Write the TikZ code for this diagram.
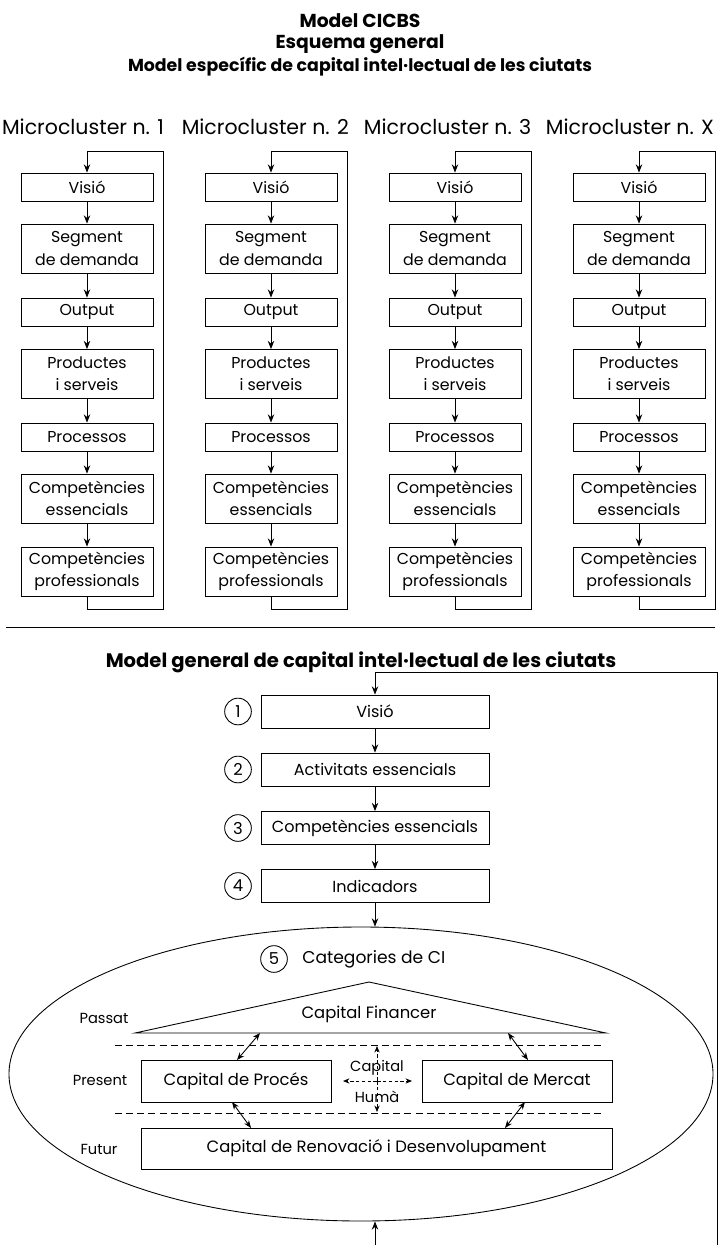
\documentclass[tikz,border=0pt]{standalone}
\usepackage{fontspec}
\setmainfont{Poppins}
\usetikzlibrary{arrows.meta,shapes.geometric}
\begin{document}
\begin{tikzpicture}[x=0.03cm,y=-0.03cm,line width=0.75pt,
  arr/.style={-{Stealth[length=7pt,width=5.5pt]}},
  darr/.style={{Stealth[length=6.5pt,width=5pt]}-{Stealth[length=6.5pt,width=5pt]}},
  hdash/.style={dash pattern=on 3pt off 2pt,-{Stealth[length=5.5pt,width=4.5pt]}},
  sep/.style={dash pattern=on 6pt off 3.5pt},
  box/.style={draw,minimum width=3.96cm,minimum height=0.84cm,inner sep=1pt,align=center,font=\fontsize{13.5}{19}\selectfont},
  tall/.style={box,minimum height=1.47cm},
  flow/.style={box,minimum width=6.84cm,minimum height=0.99cm,font=\fontsize{13.7}{15}\selectfont},
  num/.style={draw,circle,minimum size=0.8cm,inner sep=0pt,font=\fontsize{14}{15}\selectfont},
  capbox/.style={draw,minimum height=1.26cm,inner sep=1pt,font=\fontsize{14}{15}\selectfont},
  tag/.style={font=\fontsize{12.5}{14}\selectfont},
  mclab/.style={font=\fontsize{17.5}{19}\selectfont},
  ttl/.style={font=\fontsize{16}{18}\bfseries}]
\useasboundingbox (0,0) rectangle (721,1245);
\node[ttl] (t1) at (360,21) {Model CICBS};
\node[ttl] (t2) at (360,44) {Esquema general};
\node[font=\fontsize{14.8}{17}\bfseries] (t3) at (360,67) {Model específic de capital intel·lectual de les ciutats};
\foreach \i/\lab in {0/1,1/2,2/3,3/X}{
  \pgfmathsetmacro{\cx}{87+184*\i}
  \node[mclab] (mc\i) at (83+182.3*\i,127) {Microcluster n. \lab};
  \node[box] (vis\i) at (\cx,187) {Visió};
  \node[tall] (seg\i) at (\cx,248.5) {Segment\\de demanda};
  \node[box] (out\i) at (\cx,312) {Output};
  \node[tall] (prod\i) at (\cx,374) {Productes\\i serveis};
  \node[box] (proc\i) at (\cx,437) {Processos};
  \node[tall] (ess\i) at (\cx,498.5) {Competències\\essencials};
  \node[tall] (prof\i) at (\cx,571.5) {Competències\\professionals};
  \coordinate (lt\i) at (\cx+76,151);
  \coordinate (lb\i) at (\cx+76,609);
  \draw[arr] (vis\i) -- (seg\i);
  \draw[arr] (seg\i) -- (out\i);
  \draw[arr] (out\i) -- (prod\i);
  \draw[arr] (prod\i) -- (proc\i);
  \draw[arr] (proc\i) -- (ess\i);
  \draw[arr] (ess\i) -- (prof\i);
  \draw[arr] (prof\i.south) |- (lb\i) -- (lt\i) -| (vis\i.north);
}
\coordinate (sl) at (6,627);
\coordinate (sr) at (715,627);
\draw (sl) -- (sr);
\node[font=\fontsize{16.7}{18}\bfseries] (t4) at (361,662) {Model general de capital intel·lectual de les ciutats};
% general model
\node[flow] (gvis) at (375,711.5) {Visió};
\node[flow] (gact) at (375,769.5) {Activitats essencials};
\node[flow] (gess) at (375,828) {Competències essencials};
\node[flow] (gind) at (375,886) {Indicadors};
\node[num] (c1) at (238,711.5) {1};
\node[num] (c2) at (238,769.5) {2};
\node[num] (c3) at (238,828) {3};
\node[num] (c4) at (238,886) {4};
\node[draw,ellipse,minimum width=21.12cm,minimum height=8.82cm,inner sep=0pt] (cat) at (361,1074) {};
\node[num] (c5) at (274,959) {5};
\node[anchor=west,font=\fontsize{14.6}{16}\selectfont] (catl) at (298,959) {Categories de CI};
\draw[arr] (gvis) -- (gact);
\draw[arr] (gact) -- (gess);
\draw[arr] (gess) -- (gind);
\draw[arr] (gind) -- (gind |- cat.north);
\coordinate (gt) at (717,672);
\coordinate (gb) at (717,1245);
\coordinate (gbl) at (375,1245);
\draw[arr] (gb) -- (gt) -| (gvis.north);
\draw[arr] (gbl) -- (gbl |- cat.south);
% capital categories
\coordinate (rl) at (135,1033);
\coordinate (ra) at (369,982);
\coordinate (rr) at (606,1033);
\draw (rl) -- (ra) -- (rr) -- cycle;
\node[font=\fontsize{14}{15}\selectfont] (fin) at (369,1014) {Capital Financer};
\draw[sep] (115,1045) -- (604,1045);
\draw[sep] (115,1113) -- (604,1113);
\node[capbox,minimum width=5.7cm] (pcap) at (236,1081) {Capital de Procés};
\node[capbox,minimum width=5.7cm] (mcap) at (517,1081) {Capital de Mercat};
\node[capbox,minimum width=14.13cm,minimum height=1.23cm] (rdcap) at (376.5,1148.5) {Capital de Renovació i Desenvolupament};
\node[tag] (pas) at (104,1018) {Passat};
\node[tag] (pre) at (100,1080) {Present};
\node[tag] (fut) at (99,1149) {Futur};
\coordinate (fa) at (260,1033);
\coordinate (fb) at (508,1033);
\coordinate (pa) at (232,1102);
\coordinate (pb) at (251,1128);
\coordinate (ma) at (525,1102);
\coordinate (mb) at (505,1128);
\draw[darr] (fa) -- (237,1060);
\draw[darr] (fb) -- (528,1060);
\draw[darr] (pa) -- (pb);
\draw[darr] (ma) -- (mb);
\coordinate (hum) at (377,1081);
\draw[hdash] (hum) -- (377,1046);
\draw[hdash] (hum) -- (377,1112);
\draw[hdash] (hum) -- (343,1081);
\draw[hdash] (hum) -- (412,1081);
\node[tag] (hc) at (377,1068) {Capital};
\node[tag] (hh) at (377,1097) {Humà};
\end{tikzpicture}
\end{document}
